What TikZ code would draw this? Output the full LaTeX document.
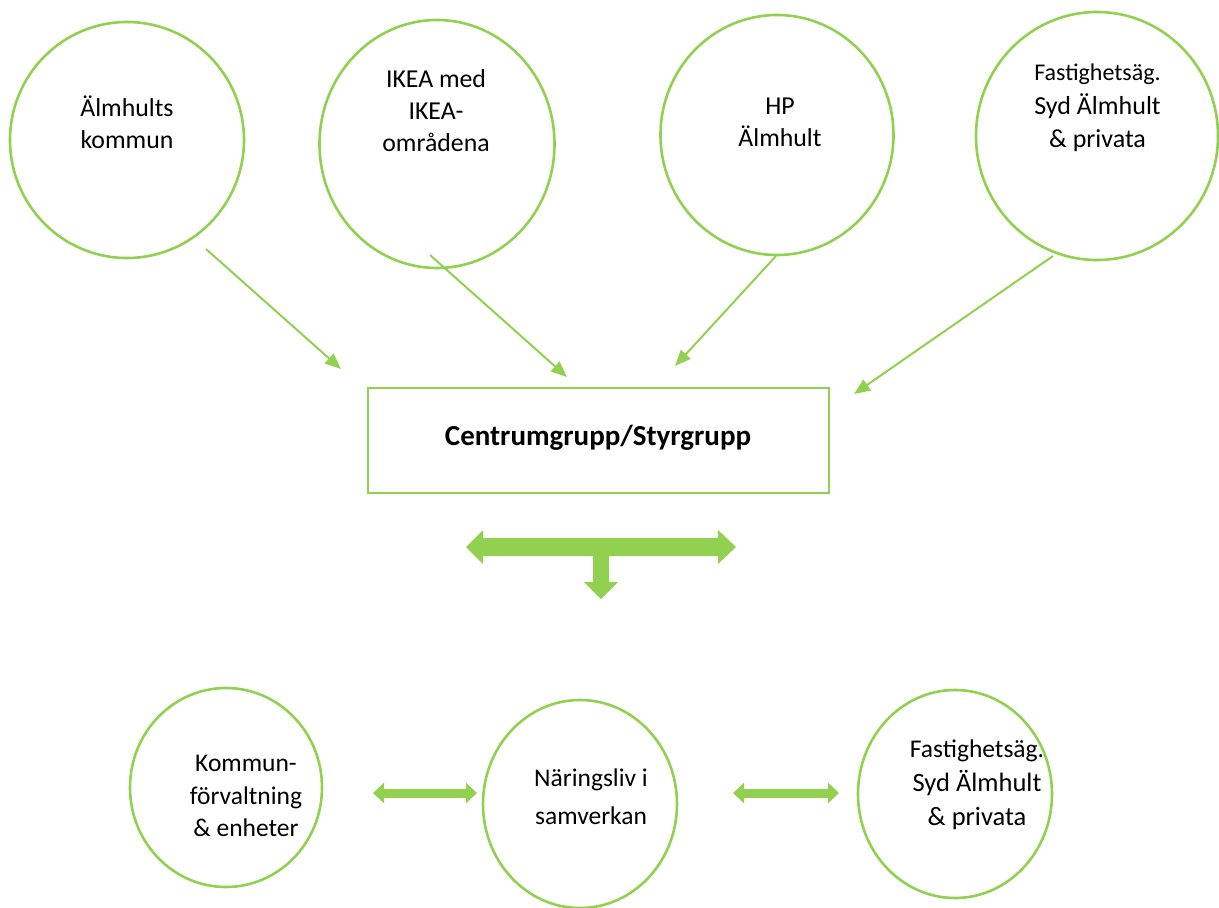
\documentclass[tikz,border=0pt]{standalone}
\usepackage{fontspec}
\setmainfont{Carlito}
\usetikzlibrary{arrows.meta,shapes.geometric}
\definecolor{lgreen}{HTML}{92D050}
\tikzset{
  oval/.style={ellipse, draw=lgreen, line width=2.6pt, inner sep=0pt},
  txt/.style={align=center, font=\fontsize{25.8}{32}\selectfont, text=black},
  txtb/.style={align=center, font=\fontsize{25.5}{32.5}\selectfont, text=black},
  thin/.style={draw=lgreen, line width=2pt, -{Triangle[length=16pt,width=13pt]}},
  fat/.style={draw=none, fill=lgreen},
  dbl/.style={lgreen, line width=9pt, {Triangle[length=11pt,width=20pt]}-{Triangle[length=11pt,width=20pt]}}
}
\begin{document}
\begin{tikzpicture}[x=1pt,y=-1pt]
\useasboundingbox (0,0) rectangle (1219,908);
% top ellipses
\node[oval, minimum width=234pt, minimum height=236pt] (e1) at (127,140) {};
\node[oval, minimum width=235pt, minimum height=248pt] (e2) at (437,144) {};
\node[oval, minimum width=233pt, minimum height=240pt] (e3) at (777,135) {};
\node[oval, minimum width=242pt, minimum height=248pt] (e4) at (1097,136) {};
\node[txt] (t1) at (127,122) {Älmhults\\kommun};
\node[txt] (t2) at (436,111) {IKEA med\\IKEA-\\områdena};
\node[txt] (t3) at (780,122) {HP\\Älmhult};
\node[txt, font=\fontsize{26}{33.5}\selectfont] (t4) at (1097.5,108) {{\fontsize{24}{33.5}\selectfont Fastighetsäg.}\\Syd Älmhult\\\& privata};
% box
\node[draw=lgreen, line width=2pt, minimum width=461pt, minimum height=105pt] (box) at (598.5,440.5) {};
\node[font=\bfseries\fontsize{29}{34}\selectfont] (boxt) at (598,438) {Centrumgrupp/Styrgrupp};
% thin arrows
\coordinate (a1s) at (206,249); \coordinate (a1e) at (341,369);
\coordinate (a2s) at (430,255); \coordinate (a2e) at (567,377);
\coordinate (a3s) at (776,256); \coordinate (a3e) at (675,366);
\coordinate (a4s) at (1053,256); \coordinate (a4e) at (854,394);
\draw[thin] (a1s) -- (a1e);
\draw[thin] (a2s) -- (a2e);
\draw[thin] (a3s) -- (a3e);
\draw[thin] (a4s) -- (a4e);
% T arrow
\fill[fat] (466,547) -- (483,530) -- (483,538) -- (718,538) -- (718,530) -- (736,547)
  -- (718,564) -- (718,556) -- (609,556) -- (609,582) -- (618,582) -- (601,599)
  -- (584,582) -- (593,582) -- (593,556) -- (483,556) -- (483,564) -- cycle;
% bottom ellipses
\node[oval, minimum width=192pt, minimum height=199pt] (b1) at (226,787.5) {};
\node[oval, minimum width=194pt, minimum height=208pt] (b2) at (580,804) {};
\node[oval, minimum width=194pt, minimum height=208pt] (b3) at (955,794) {};
\node[txtb] (u1) at (246,796) {Kommun-\\förvaltning\\\& enheter};
\node[txtb, font=\fontsize{25.5}{38}\selectfont] (u2) at (591,797) {Näringsliv i\\samverkan};
\node[txtb, font=\fontsize{26.5}{34}\selectfont] (u3) at (977,785) {{\fontsize{25.5}{34}\selectfont Fastighetsäg.}\\Syd Älmhult\\\& privata};
% small double arrows
\coordinate (d1s) at (373,793); \coordinate (d1e) at (477,793);
\coordinate (d2s) at (733,793); \coordinate (d2e) at (839,793);
\draw[dbl] (d1s) -- (d1e);
\draw[dbl] (d2s) -- (d2e);
\end{tikzpicture}
\end{document}
